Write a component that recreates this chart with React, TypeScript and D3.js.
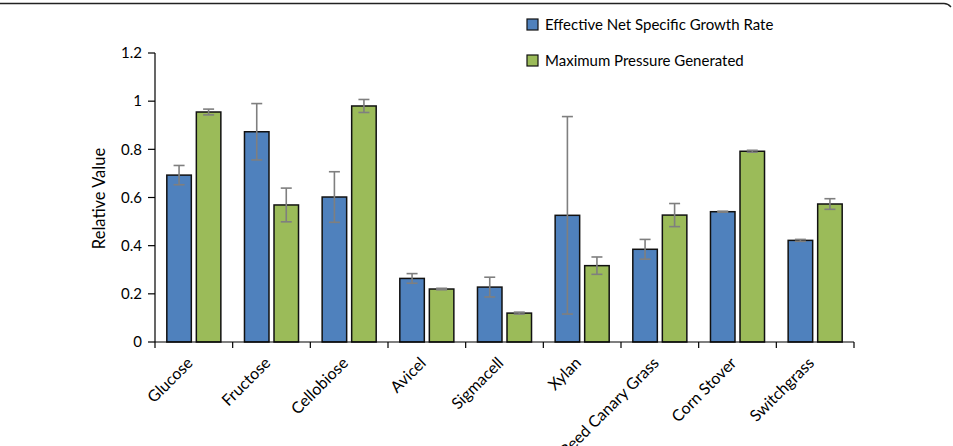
import * as React from 'react'
import * as d3 from 'd3'

const categories = ['Glucose', 'Fructose', 'Cellobiose', 'Avicel', 'Sigmacell', 'Xylan', 'Reed Canary Grass', 'Corn Stover', 'Switchgrass']
const seriesNames = ['Effective Net Specific Growth Rate', 'Maximum Pressure Generated']
const growthRate = [0.693, 0.873, 0.602, 0.264, 0.228, 0.526, 0.385, 0.541, 0.422]
const growthErr = [0.04, 0.117, 0.105, 0.02, 0.041, 0.41, 0.041, 0.002, 0.004]
const pressure = [0.955, 0.569, 0.98, 0.22, 0.12, 0.317, 0.527, 0.792, 0.573]
const pressureErr = [0.012, 0.07, 0.027, 0.003, 0.004, 0.036, 0.048, 0.004, 0.022]
const yTicks = [0, 0.2, 0.4, 0.6, 0.8, 1, 1.2]
const colors = ['#4f81bd', '#9bbb59']

const W = 953
const H = 446
const FONT = 'Lato, "Open Sans", sans-serif'

export default function App() {
  const x0 = d3.scaleBand<string>().domain(categories).range([155, 854]).padding(0)
  const x1 = d3.scaleBand<string>().domain(seriesNames).range([0, x0.bandwidth()]).paddingInner(0.17).paddingOuter(0.4)
  const y = d3.scaleLinear().domain([0, 1.2]).range([342, 53])

  const values = [growthRate, pressure]
  const errs = [growthErr, pressureErr]
  const fmt = d3.format('~g')

  return (
    <svg width={W} height={H} style={{ position: 'absolute', left: 0, top: 0, background: '#fff' }} fontFamily={FONT}>
      {/* frame edge at the top */}
      <path d={`M0,3.5 H944 Q948,3.5 951,7`} fill="none" stroke="#222" strokeWidth={1.3} />

      {/* bars */}
      {categories.map((c, i) => (
        <g key={c} transform={`translate(${x0(c)},0)`}>
          {seriesNames.map((s, k) => {
            const v = values[k][i]
            const e = errs[k][i]
            const bx = x1(s)!
            const cx = bx + x1.bandwidth() / 2
            return (
              <g key={s}>
                <rect x={bx} y={y(v)} width={x1.bandwidth()} height={y(0) - y(v)} fill={colors[k]} stroke="#111" strokeWidth={1.5} />
                <g stroke="#7f7f7f" strokeWidth={1.6}>
                  <line x1={cx} x2={cx} y1={y(v + e)} y2={y(v - e)} />
                  <line x1={cx - 5.5} x2={cx + 5.5} y1={y(v + e)} y2={y(v + e)} />
                  <line x1={cx - 5.5} x2={cx + 5.5} y1={y(v - e)} y2={y(v - e)} />
                </g>
              </g>
            )
          })}
        </g>
      ))}

      {/* y axis */}
      <line x1={155} x2={155} y1={y(1.2)} y2={y(0)} stroke="#000" strokeWidth={1.2} />
      {yTicks.map(t => (
        <g key={t}>
          <line x1={148} x2={155} y1={y(t)} y2={y(t)} stroke="#000" strokeWidth={1.2} />
          <text x={142} y={y(t)} dy="0.35em" textAnchor="end" fontSize={15} fill="#000">{fmt(t)}</text>
        </g>
      ))}
      <text transform={`translate(105,${(y(0) + y(1.2)) / 2 + 1}) rotate(-90)`} textAnchor="middle" fontSize={16.5} fill="#000">Relative Value</text>

      {/* x axis */}
      <line x1={155} x2={854} y1={y(0)} y2={y(0)} stroke="#000" strokeWidth={1.2} />
      {[...categories.map(c => x0(c)!), x0.range()[1]].map((px, i) => (
        <line key={i} x1={px} x2={px} y1={y(0)} y2={y(0) + 6} stroke="#000" strokeWidth={1.2} />
      ))}
      {categories.map(c => {
        const cx = x0(c)! + x0.bandwidth() / 2
        return (
          <text key={c} transform={`translate(${cx},364) rotate(-45)`} textAnchor="end" fontSize={16} fill="#000">{c}</text>
        )
      })}

      {/* legend */}
      {seriesNames.map((s, k) => (
        <g key={s} transform={`translate(527,${19 + k * 36})`}>
          <rect x={0} y={0} width={11} height={11} fill={colors[k]} stroke="#111" strokeWidth={1.2} />
          <text x={18} y={10.5} fontSize={15} fill="#000">{s}</text>
        </g>
      ))}
    </svg>
  )
}
